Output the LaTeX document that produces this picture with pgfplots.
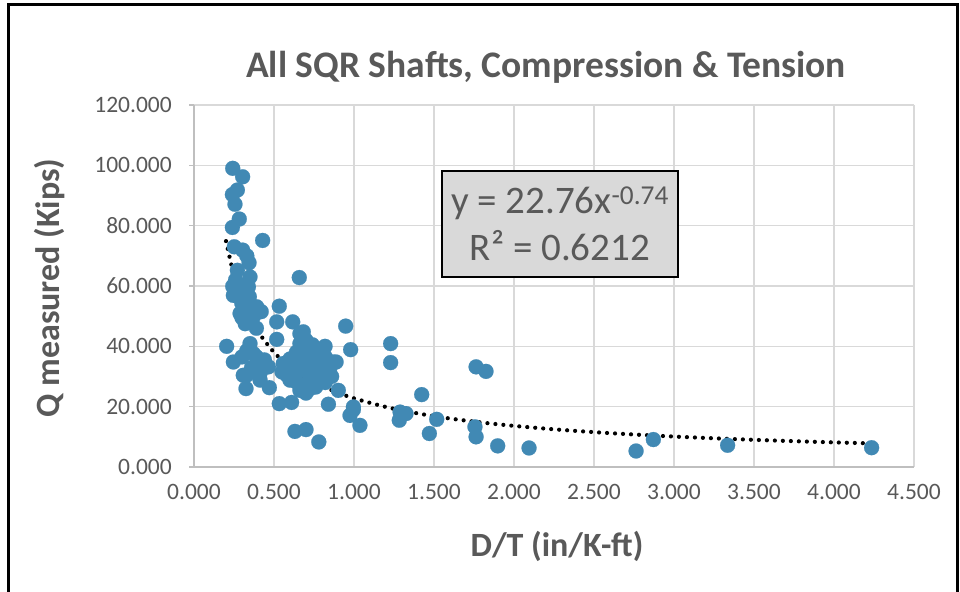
\documentclass[border=0pt]{standalone}
\usepackage{pgfplots}
\pgfplotsset{compat=1.18}
\usepackage{fontspec}
\setmainfont{Carlito}

\definecolor{txtgray}{RGB}{89,89,89}
\definecolor{gridgray}{RGB}{217,217,217}
\definecolor{axgray}{RGB}{191,191,191}
\definecolor{ptblue}{RGB}{65,137,180}
\definecolor{boxgray}{RGB}{217,217,217}

% measured shaft data: D/T (in/K-ft) versus Q measured (kips)
\pgfplotstableread{
x y
0.242 99.0
0.304 96.2
0.271 91.8
0.240 90.3
0.256 87.1
0.283 82.2
0.240 79.4
0.429 75.1
0.252 73.0
0.304 71.9
0.330 70.0
0.344 67.7
0.271 65.2
0.350 63.0
0.658 62.8
0.242 59.9
0.246 56.9
0.340 59.7
0.346 56.4
0.298 54.4
0.392 53.1
0.533 53.3
0.288 50.9
0.371 49.8
0.300 49.5
0.420 51.5
0.517 48.1
0.617 48.1
0.948 46.7
0.350 48.1
0.390 46.0
0.662 44.2
0.683 44.8
0.517 42.3
0.204 40.0
0.350 40.9
0.662 40.9
0.819 40.0
0.979 38.9
0.371 37.6
0.390 36.5
0.725 38.7
0.246 34.8
0.400 34.8
0.558 34.3
0.662 35.4
0.871 34.8
0.888 34.8
0.465 33.2
0.329 30.4
0.308 30.4
0.410 30.4
0.413 28.8
0.600 28.8
0.725 29.9
0.640 28.2
0.902 25.4
0.325 26.0
0.471 26.3
0.662 25.4
0.725 26.0
0.533 21.0
0.610 21.4
0.840 20.8
0.996 19.0
0.975 17.1
1.037 13.8
0.631 11.8
0.700 12.4
0.780 8.3
0.996 19.9
0.700 42.0
0.740 40.5
0.760 37.5
0.700 36.8
0.780 35.5
0.820 36.5
0.800 33.0
0.760 32.0
0.700 32.5
0.650 31.5
0.720 34.5
0.840 31.0
0.780 29.0
0.820 28.0
0.680 27.0
0.760 26.5
0.850 33.0
0.620 33.0
0.580 30.5
0.550 31.5
0.600 35.8
0.640 38.0
0.680 39.5
0.760 35.0
0.800 38.5
0.860 30.0
0.700 24.5
0.740 28.0
0.330 38.5
0.360 33.0
0.420 32.0
0.440 35.5
0.300 36.5
0.260 62.0
0.280 57.5
0.320 55.0
0.300 60.0
0.360 52.0
0.320 47.5
1.229 40.9
1.229 34.6
1.423 24.0
1.763 33.2
1.825 31.7
1.288 18.2
1.325 17.7
1.283 15.5
1.517 15.8
1.471 11.1
1.756 13.3
1.763 10.0
1.898 7.0
2.094 6.3
2.763 5.3
2.871 9.1
3.335 7.2
4.235 6.4
}\shafts

% power trendline y = 22.76 x^(-0.74), tabulated
\pgfplotstableread{
x y
0.20 74.88
0.25 63.49
0.30 55.48
0.35 49.50
0.40 44.84
0.50 38.01
0.60 33.22
0.70 29.63
0.80 26.85
0.90 24.61
1.00 22.76
1.20 19.89
1.40 17.74
1.60 16.07
1.80 14.73
2.00 13.63
2.25 12.49
2.50 11.55
2.75 10.77
3.00 10.09
3.25 9.515
3.50 9.007
3.75 8.558
4.00 8.159
4.235 7.822
}\trend

\begin{document}
\begin{tikzpicture}[x=1bp,y=1bp]
\useasboundingbox (0,0) rectangle (960,592);
\begin{scope}
  \clip (0,0) rectangle (960,592);
  \draw[line width=2.5bp] (8.5,-5) -- (8.5,587.5) -- (957.5,587.5) -- (957.5,-5);
\end{scope}

\begin{axis}[
  at={(194bp,125bp)}, anchor=south west,
  scale only axis, width=720bp, height=362bp,
  xmin=0, xmax=4.5, ymin=0, ymax=120,
  xtick={0,0.5,1,1.5,2,2.5,3,3.5,4,4.5},
  ytick={0,20,40,60,80,100,120},
  axis x line=bottom, axis y line=left,
  axis line style={-, axgray, line width=1.3bp},
  grid=major,
  major grid style={gridgray, line width=1.4bp},
  tick align=outside,
  major tick length=5bp,
  xtick style={draw=none},
  ytick style={axgray, line width=1.2bp},
  /pgf/number format/.cd, fixed, fixed zerofill, precision=3, assume math mode=true,
  /pgfplots/.cd,
  tick label style={font=\fontsize{23.5bp}{28bp}\selectfont, text=txtgray},
  yticklabel style={anchor=east, inner sep=0pt, xshift=-17bp},
  xticklabel style={anchor=north, inner sep=0pt, yshift=-12bp},
  clip=false,
]
\addplot[only marks, mark=*, mark size=7.5bp,
  mark options={fill=ptblue, draw=ptblue, line width=0.2bp}] table[x=x,y=y] {\shafts};
\addplot[black, smooth, line width=4.2bp, line cap=round,
  dash pattern=on 0bp off 8bp] table[x=x,y=y] {\trend};
\end{axis}

% chart title and axis titles
\node[anchor=base, text=txtgray, font=\fontsize{37.5bp}{42bp}\selectfont\bfseries]
  at (546,514) {All SQR Shafts, Compression \& Tension};
\node[text=txtgray, font=\fontsize{34bp}{38bp}\selectfont\bfseries]
  at (557,46) {D/T (in/K-ft)};
\node[rotate=90, text=txtgray, font=\fontsize{34bp}{38bp}\selectfont\bfseries]
  at (50,304) {Q measured (Kips)};

% trendline equation box
\draw[fill=boxgray, draw=black, line width=1.5bp] (442,315) rectangle (678,421);
\node[anchor=base, text=txtgray, font=\fontsize{39bp}{44bp}\selectfont]
  at (560,378.7) {y = 22.76x\textsuperscript{-0.74}};
\node[anchor=base, text=txtgray, font=\fontsize{39bp}{44bp}\selectfont]
  at (560,331) {R² = 0.6212};
\end{tikzpicture}
\end{document}
